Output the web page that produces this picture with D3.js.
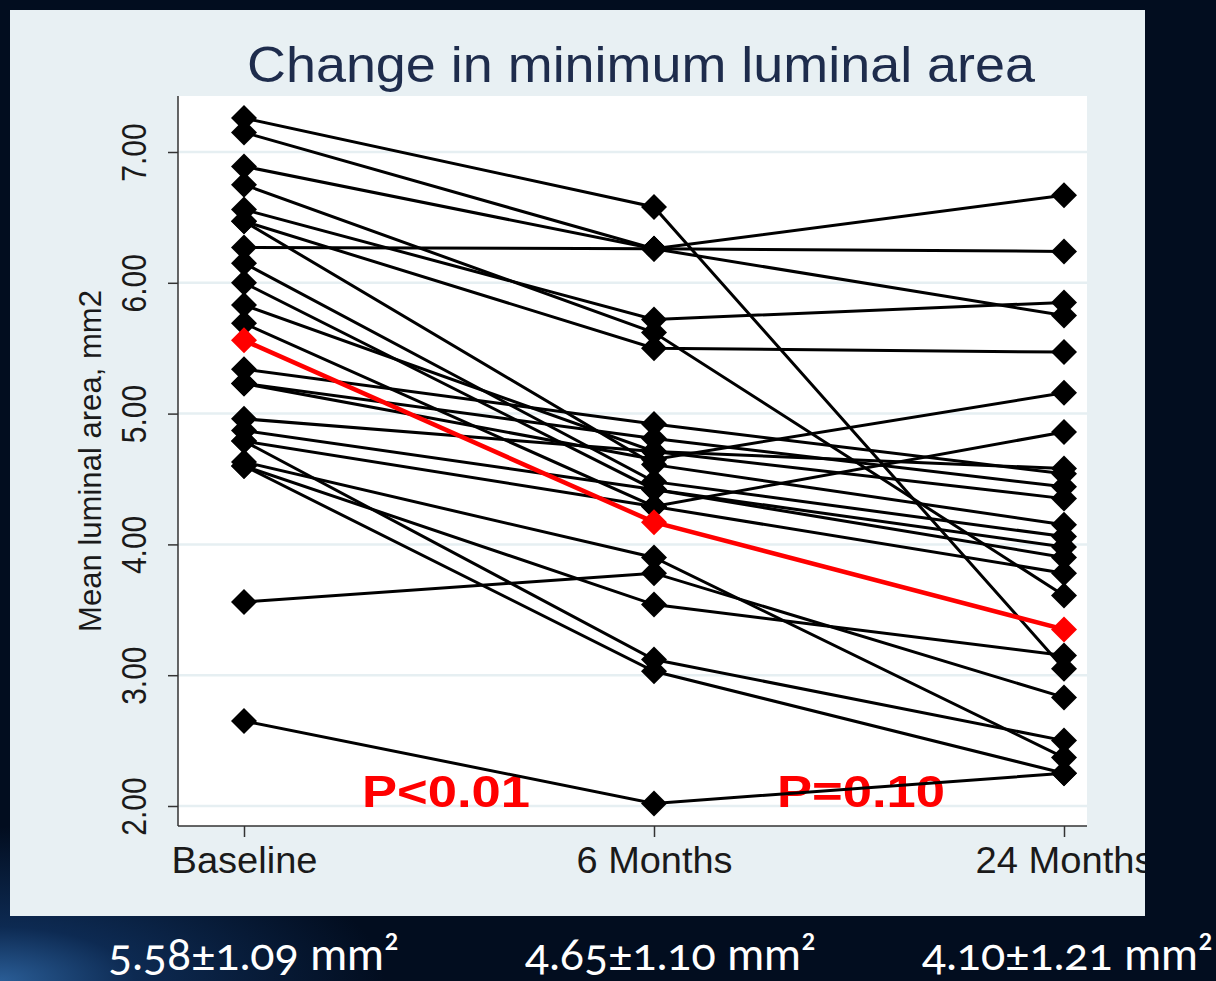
<!DOCTYPE html>
<html><head><meta charset="utf-8">
<script src="https://cdn.jsdelivr.net/npm/d3@7"></script>
<style>html,body{margin:0;padding:0;background:#020d1f;overflow:hidden}</style>
</head><body><svg id="c" width="1216" height="981"></svg>
<script>
// ---- data ----
const categories = ["Baseline", "6 Months", "24 Months"];
const baselineValues = [7.26, 7.15, 6.89, 6.75, 6.56, 6.47, 6.47, 6.27, 6.15, 6.00, 5.83, 5.69,
  5.34, 5.23, 5.23, 4.96, 4.87, 4.79, 4.63, 4.60, 4.79, 4.60, 3.56, 2.65];
const sixMonthValues = [6.58, 6.26, 6.26, 5.62, 5.72, 5.50, 4.61, 6.26, 4.48, 4.42, 4.71, 4.29,
  4.92, 4.81, 4.65, 4.71, 4.42, 4.29, 3.90, 3.54, 3.12, 3.03, 3.78, 2.02];
const twentyFourMonthValues = [3.05, 5.75, 6.67, 3.61, 5.85, 5.47, 4.15, 6.24, 4.06, 3.98, 4.58, 4.86,
  4.54, 4.44, 5.16, 4.35, 3.90, 3.78, 2.37, 3.15, 2.50, 2.25, 2.83, 2.25];
const meanValues = [5.56, 4.17, 3.35];
const yTicks = [2, 3, 4, 5, 6, 7];
const pLabels = ["P<0.01", "P=0.10"];
const summaryLabels = ["5.58±1.09 mm²", "4.65±1.10 mm²", "4.10±1.21 mm²"];
const titleText = "Change in minimum luminal area";
const yTitle = "Mean luminal area, mm2";

// ---- setup ----
const svg = d3.select("#c");
const defs = svg.append("defs");
const rg = defs.append("radialGradient").attr("id", "bgGlow")
  .attr("cx", "0").attr("cy", "1").attr("r", "0.55");
rg.append("stop").attr("offset", "0").attr("stop-color", "#2a5d96");
rg.append("stop").attr("offset", "0.35").attr("stop-color", "#0d2a52");
rg.append("stop").attr("offset", "1").attr("stop-color", "#020d1f");
svg.append("rect").attr("width", 1216).attr("height", 981).attr("fill", "#020d1f");
svg.append("rect").attr("x", 0).attr("y", 700).attr("width", 700).attr("height", 281).attr("fill", "url(#bgGlow)");

defs.append("clipPath").attr("id", "panelClip").append("rect")
  .attr("x", 10).attr("y", 10).attr("width", 1135).attr("height", 906);

const panel = svg.append("g").attr("clip-path", "url(#panelClip)");
panel.append("rect").attr("x", 10).attr("y", 10).attr("width", 1135).attr("height", 906).attr("fill", "#e8f0f3");

const plot = { left: 178, right: 1087, top: 96, bottom: 826 };
panel.append("rect").attr("x", plot.left).attr("y", plot.top)
  .attr("width", plot.right - plot.left).attr("height", plot.bottom - plot.top).attr("fill", "#ffffff");

const x = d3.scalePoint().domain(categories).range([244, 1064]);
const y = d3.scaleLinear().domain([2, 7]).range([806, 152]);

// gridlines
panel.append("g").selectAll("line").data(yTicks).join("line")
  .attr("x1", plot.left).attr("x2", plot.right)
  .attr("y1", d => y(d)).attr("y2", d => y(d))
  .attr("stroke", "#e6eff2").attr("stroke-width", 2.5);

// title
panel.append("text").attr("x", 641).attr("y", 82).attr("text-anchor", "middle")
  .attr("font-family", "Liberation Sans, Arial, sans-serif").attr("font-size", 50)
  .attr("fill", "#1e2c4c").attr("textLength", 788).attr("lengthAdjust", "spacingAndGlyphs")
  .text(titleText);

// y axis
const yAxis = d3.axisLeft(y).tickValues(yTicks).tickFormat(d3.format(".2f")).tickSize(10).tickPadding(0);
const yg = panel.append("g").attr("transform", `translate(${plot.left},0)`).call(yAxis);
yg.select(".domain").attr("d", `M0,${plot.top}V${plot.bottom}`).attr("stroke", "#333").attr("stroke-width", 1.5);
yg.selectAll(".tick line").attr("stroke", "#333").attr("stroke-width", 1.5);
yg.selectAll(".tick text")
  .attr("x", 0).attr("dy", 0).attr("y", 0)
  .attr("transform", "translate(-32,0) scale(1.15,1) rotate(-90)")
  .attr("text-anchor", "middle")
  .attr("font-family", "Liberation Sans, Arial, sans-serif").attr("font-size", 30)
  .attr("fill", "#1a1a1a");

panel.append("text")
  .attr("transform", `translate(101,461) rotate(-90)`)
  .attr("text-anchor", "middle")
  .attr("font-family", "Liberation Sans, Arial, sans-serif").attr("font-size", 31)
  .attr("fill", "#1a1a1a").attr("textLength", 342).attr("lengthAdjust", "spacingAndGlyphs")
  .text(yTitle);

// x axis
const xAxis = d3.axisBottom(x).tickSize(11).tickPadding(8);
const xg = panel.append("g").attr("transform", `translate(0,${plot.bottom})`).call(xAxis);
xg.select(".domain").attr("d", `M${plot.left},0H${plot.right}`).attr("stroke", "#333").attr("stroke-width", 1.5);
xg.selectAll(".tick line").attr("stroke", "#333").attr("stroke-width", 1.5);
xg.selectAll(".tick text")
  .attr("dy", 0).attr("y", 47)
  .attr("font-family", "Liberation Sans, Arial, sans-serif").attr("font-size", 36)
  .attr("fill", "#1a1a1a")
  .attr("textLength", d => d === "Baseline" ? 146 : (d === "6 Months" ? 156 : 178))
  .attr("lengthAdjust", "spacingAndGlyphs");

// P labels (under lines)
const pPos = [[446, 807], [861, 807]];
panel.append("g").selectAll("text").data(pLabels).join("text")
  .attr("x", (d, i) => pPos[i][0]).attr("y", (d, i) => pPos[i][1])
  .attr("text-anchor", "middle")
  .attr("font-family", "Liberation Sans, Arial, sans-serif").attr("font-weight", "bold")
  .attr("font-size", 44).attr("fill", "#ff0000")
  .attr("textLength", 168).attr("lengthAdjust", "spacingAndGlyphs")
  .text(d => d);

// subjects
const subjects = baselineValues.map((b, i) => [b, sixMonthValues[i], twentyFourMonthValues[i]]);
const line = d3.line().x((d, i) => x(categories[i])).y(d => y(d));
const diamond = (cx, cy) => `M${cx},${cy - 13}L${cx + 13},${cy}L${cx},${cy + 13}L${cx - 13},${cy}Z`;

const lg = panel.append("g");
lg.selectAll("path.subj").data(subjects).join("path").attr("class", "subj")
  .attr("d", line).attr("fill", "none").attr("stroke", "#000").attr("stroke-width", 3);

const pts = [];
subjects.forEach(s => s.forEach((v, i) => pts.push([x(categories[i]), y(v)])));
lg.selectAll("path.mk").data(pts).join("path").attr("class", "mk")
  .attr("d", d => diamond(d[0], d[1])).attr("fill", "#000");

// mean line
panel.append("path").datum(meanValues).attr("d", line)
  .attr("fill", "none").attr("stroke", "#ff0000").attr("stroke-width", 4.5);
panel.append("g").selectAll("path").data(meanValues).join("path")
  .attr("d", (d, i) => diamond(x(categories[i]), y(d))).attr("fill", "#ff0000");

// summary labels under panel
const sumX = [108, 525, 922];
svg.append("g").selectAll("text").data(summaryLabels).join("text")
  .attr("x", (d, i) => sumX[i]).attr("y", 970)
  .attr("font-family", "Lato, 'Open Sans', sans-serif").attr("font-size", 44)
  .style("font-feature-settings", "'onum'")
  .attr("fill", "#ffffff").attr("textLength", 291).attr("lengthAdjust", "spacingAndGlyphs")
  .text(d => d);
</script></body></html>
